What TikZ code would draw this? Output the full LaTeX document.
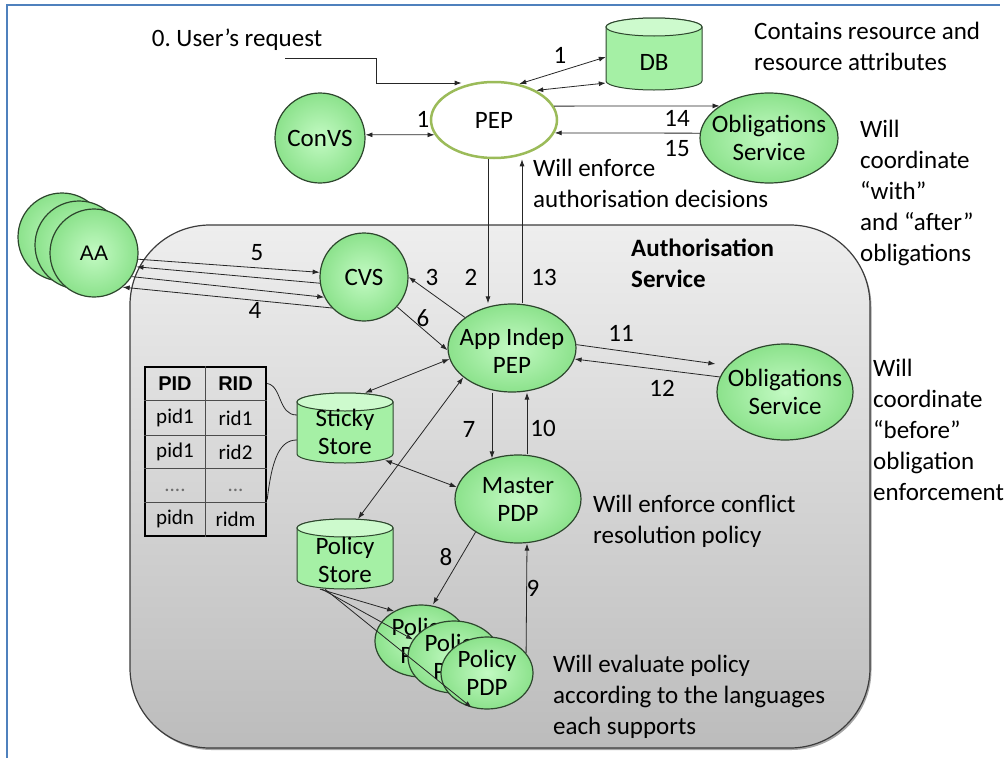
\documentclass[tikz,border=0pt]{standalone}
\usepackage{fontspec}
\setmainfont{Carlito}
\newfontfamily\arialfont{Liberation Sans}
\usetikzlibrary{shapes.geometric,arrows.meta,shadows,calc}
\frenchspacing
\definecolor{frameblue}{RGB}{79,129,189}
\definecolor{gin}{RGB}{195,250,195}
\definecolor{gout}{RGB}{140,226,140}
\definecolor{gline}{RGB}{45,70,45}
\definecolor{pepline}{RGB}{155,187,89}
\definecolor{regtop}{RGB}{238,238,238}
\definecolor{regbot}{RGB}{188,188,188}
\definecolor{regline}{RGB}{60,60,60}
\definecolor{cylbody}{RGB}{165,240,165}
\definecolor{cyltop}{RGB}{205,250,205}
\definecolor{dotgray}{RGB}{110,110,110}
\newcommand\drawcyl[4]{%
  \pgfmathsetmacro\cylrx{(#3-#1)/2}%
  \pgfmathsetmacro\cylcx{(#3+#1)/2}%
  \filldraw[fill=cylbody, draw=gline, line width=1pt] (#1,#2+9) -- (#1,#4-9)
    arc[start angle=180,end angle=360,x radius=\cylrx pt,y radius=9pt] -- (#3,#2+9)
    arc[start angle=0,end angle=180,x radius=\cylrx pt,y radius=9pt] -- cycle;
  \filldraw[fill=cyltop, draw=gline, line width=1pt] (\cylcx,#2+9) ellipse[x radius=\cylrx pt,y radius=9pt];
}
\begin{document}
\begin{tikzpicture}[x=1pt,y=-1pt,
  every node/.style={font=\fontsize{25}{31}\selectfont, inner sep=0pt},
  gnode/.style={draw=gline, line width=1.2pt, inner color=gin, outer color=gout},
  gcirc/.style={gnode, circle, minimum size=#1},
  gell/.style 2 args={gnode, ellipse, minimum width=#1, minimum height=#2},
  gl/.style={align=center, font=\fontsize{25}{28}\selectfont},
  conn/.style={line width=0.8pt, draw=black!85},
  arr/.style={conn, -{Latex[length=7pt,width=5pt]}},
  darr/.style={conn, {Latex[length=7pt,width=5pt]}-{Latex[length=7pt,width=5pt]}},
  note/.style={align=left, anchor=west},
  region/.style={draw=regline, line width=1.2pt, rounded corners=80pt, top color=regtop, bottom color=regbot,
    minimum width=740pt, minimum height=523pt,
    drop shadow={shadow xshift=1.5pt, shadow yshift=-2pt, opacity=0.35, fill=black}},
  tabinner/.style={line width=0.8pt, draw=black!70},
  cellt/.style={font=\fontsize{21}{24}\selectfont},
  cellh/.style={font=\arialfont\bfseries\fontsize{20}{24}\selectfont},
]
\useasboundingbox (0,0) rectangle (1005,758);
\draw[frameblue, line width=2pt] (7,758) -- (7,5) -- (1000,5);

% authorisation service region
\node[region] (authsvc) at (500,486.5) {};
\node[note, font=\bfseries\fontsize{25}{31}\selectfont] (authtitle) at (631,263.5) {Authorisation\\Service};

% PEP
\node[ellipse, draw=pepline, line width=2.5pt, fill=white, minimum width=126pt, minimum height=76pt,
  label={center:PEP}] (pep) at (494,120) {};

% cylinders
\drawcyl{606}{18}{702}{90}
\node[minimum width=96pt, minimum height=72pt, label={[yshift=-8pt]center:DB}] (db) at (654,54) {};
\drawcyl{297}{393}{393}{463}
\node[minimum width=96pt, minimum height=70pt, label={[gl,yshift=-4pt]center:Sticky\\Store}] (sticky) at (345,428) {};
\drawcyl{297}{519}{393}{589}
\node[minimum width=96pt, minimum height=70pt, label={[gl,yshift=-6pt]center:Policy\\Store}] (pstore) at (345,554) {};

% green nodes
\node[gcirc=90pt, label={center:ConVS}] (convs) at (320,138) {};
\node[gell={138pt}{90pt}, label={[gl]center:Obligations\\Service}] (obs1) at (769,138) {};
\node[gcirc=88pt] (aa1) at (62,237) {};
\node[gcirc=88pt] (aa2) at (79,245) {};
\node[gcirc=88pt, label={[font=\arialfont\fontsize{21}{24}\selectfont]center:AA}] (aa3) at (94,253) {};
\node[gcirc=88pt, label={center:CVS}] (cvs) at (364,277) {};
\node[gell={128pt}{88pt}, label={[gl,yshift=-3pt]center:App Indep\\PEP}] (app) at (512,348) {};
\node[gell={136pt}{96pt}, label={[gl]center:Obligations\\Service}] (obs2) at (785,392) {};
\node[gell={126pt}{88pt}, label={[gl]center:Master\\PDP}] (master) at (518,499) {};
\node[gell={92pt}{72pt}, label={[gl]center:Policy\\PDP}] (pdp1) at (421,641) {};
\node[gell={92pt}{72pt}, label={[gl]center:Policy\\PDP}] (pdp2) at (454,657) {};
\node[gell={92pt}{72pt}, label={[gl]center:Policy\\PDP}] (pdp3) at (487,673) {};

% table
\node[draw, line width=2.5pt, minimum width=121pt, minimum height=169pt] (tab) at (205.5,451.5) {};
\draw[tabinner] (tab.north) -- (tab.south);
\foreach \dy in {51.5,16.5,-16.5,-50.5}
  \draw[tabinner] ([yshift=\dy pt]tab.west) -- ([yshift=\dy pt]tab.east);
\node[cellh] (h1) at (175,384) {PID};
\node[cellh] (h2) at (235.5,384) {RID};
\node[cellt] (c11) at (175,418) {pid1};
\node[cellt] (c12) at (235.5,418) {rid1};
\node[cellt] (c21) at (175,452) {pid1};
\node[cellt] (c22) at (235.5,452) {rid2};
\node[cellt, text=dotgray] (c31) at (175,490) {....};
\node[cellt, text=dotgray] (c32) at (235.5,490) {...};
\node[cellt] (c41) at (175,519) {pidn};
\node[cellt] (c42) at (235.5,519) {ridm};

% notes
\node[note] (n1) at (754,46) {Contains resource and\\resource attributes};
\node[note] (n2) at (533,183) {Will enforce\\authorisation decisions};
\node[note] (n3) at (860,192.5) {Will\\coordinate\\“with”\\and “after”\\obligations};
\node[note] (n4) at (873,430) {Will\\coordinate\\“before”\\obligation\\enforcement};
\node[note] (n5) at (593,521.5) {Will enforce conflict\\resolution policy};
\node[note] (n6) at (553,697) {Will evaluate policy\\according to the languages\\each supports};

% user request
\node (ureq) at (237,40) {0. User’s request};
\coordinate (ureqstart) at (285,58);
\draw[arr] (ureqstart) -- ++(91,0) |- ([xshift=-11pt]pep.120);

% connectors
\draw[darr] (pep.55) -- ([yshift=-3pt]db.west);
\draw[darr] (pep.35) -- ([yshift=-29pt]db.west);
\node (l1a) at (560,55) {1};
\draw[darr] (convs.4) -- (pep.194);
\node (l1b) at (423,119) {1};
\draw[arr] (pep.13) -- (obs1.147);
\node (l14) at (677,118) {14};
\draw[arr] (obs1.176) -- (pep.348);
\node (l15) at (677,149) {15};
\draw[arr] ([xshift=-6pt]pep.south) -- ([xshift=-24pt]app.north);
\node (l2) at (471,277) {2};
\draw[arr] ([xshift=10pt]app.north) -- ([xshift=28pt]pep.south);
\node (l13) at (544,277) {13};

\draw[arr] (aa3.-8) -- (cvs.174);
\draw[arr] (cvs.188) -- (aa3.-18);
\draw[arr] (aa3.-32) -- (cvs.207);
\draw[arr] (cvs.224) -- (aa3.-50);
\node (l5) at (257,253) {5};
\node (l4) at (255,310) {4};

\draw[arr] (app.147) -- (cvs.east);
\node (l3) at (432,277) {3};
\draw[arr] (cvs.-42) -- (app.182);
\node (l6) at (423,318) {6};

\draw[arr] (app.3) -- ([xshift=-10pt,yshift=4pt]obs2.158);
\node (l11) at (621,333) {11};
\draw[arr] (obs2.167) -- (app.-10);
\node (l12) at (662,388) {12};

\draw[darr] (app.190) -- ([xshift=20pt]sticky.north);
\draw[darr] (app.211) -- ([xshift=13pt]pstore.north);
\draw[darr] ([xshift=40pt,yshift=3pt]sticky.south) -- (master.169);

\draw[arr] ([xshift=-20pt]app.south) -- ([xshift=-26pt,yshift=-4pt]master.north);
\node (l7) at (469,429) {7};
\draw[arr] ([xshift=9pt]master.north) -- ([xshift=15pt]app.south);
\node (l10) at (543,428) {10};

\draw[arr] (master.218) -- ([xshift=12pt]pdp1.north);
\node (l8) at (446,557) {8};
\draw[arr] (pdp3.27) -- ([xshift=9pt]master.south);
\node (l9) at (533,588) {9};

\draw[arr] ([xshift=-25pt]pstore.south) -- (pdp1.132);
\draw[arr] ([xshift=-23pt]pstore.south) -- (pdp2.157);
\draw[arr] ([xshift=-20pt]pstore.south) -- (pdp3.246);

\draw[conn] ([yshift=68pt]tab.east) .. controls (282,386) and (278,415) .. ([yshift=13pt]sticky.west);
\draw[conn] ([yshift=-48pt]tab.east) .. controls (272,458) and (280,440) .. ([yshift=-12pt]sticky.west);
\end{tikzpicture}
\end{document}
